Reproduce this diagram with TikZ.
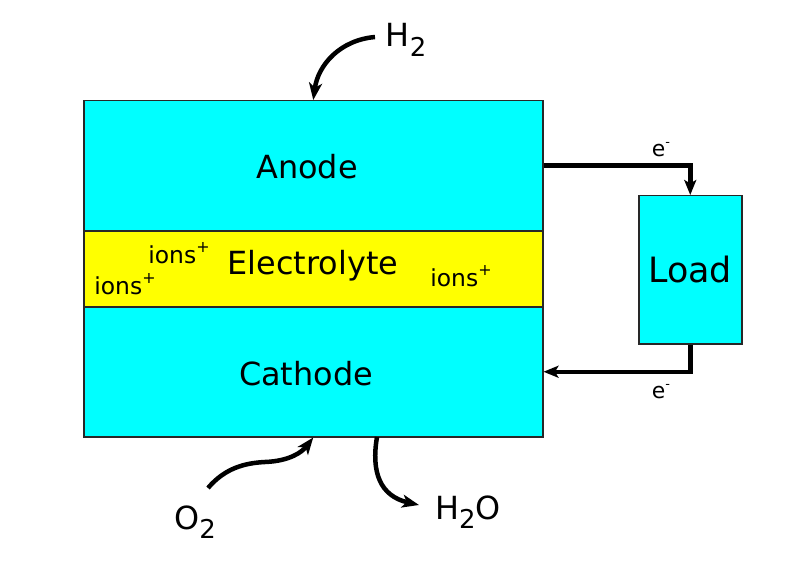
\documentclass[tikz,border=0pt]{standalone}
\usepackage{fontspec}
\setmainfont{DejaVu Sans}
\usetikzlibrary{arrows.meta}
\definecolor{cyanfill}{RGB}{0,255,255}
\definecolor{yellowfill}{RGB}{255,255,0}
\definecolor{edge}{RGB}{40,40,40}
\newcommand\mysub[2]{\raisebox{-0.3em}{\fontsize{#1}{#1}\selectfont #2}}
\newcommand\mysup[2]{\raisebox{0.45em}{\fontsize{#1}{#1}\selectfont #2}}
\begin{document}
\begin{tikzpicture}[x=1bp,y=-1bp,
  layer/.style={draw=edge, line width=1.5bp, minimum width=459bp, inner sep=0pt, anchor=north west},
  layertext/.style={font=\fontsize{32}{32}\selectfont, inner sep=0pt},
  loadbox/.style={draw=edge, line width=1.5bp, fill=cyanfill, minimum width=103bp, minimum height=148bp,
    inner sep=0pt, anchor=north west, font=\fontsize{35}{35}\selectfont},
  ionlabel/.style={font=\fontsize{23.5}{23.5}\selectfont, inner sep=0pt},
  elabel/.style={font=\fontsize{22}{22}\selectfont, inner sep=0pt},
  gas/.style={font=\fontsize{32}{32}\selectfont, inner sep=0pt},
  flow/.style={line width=4.5bp, -{Stealth[length=17bp,width=13bp,inset=4.5bp]}},
  wire/.style={line width=4.5bp, -{Stealth[length=15bp,width=12bp,inset=3.5bp]}}]
\useasboundingbox (0,0) rectangle (802,567);
% layers
\node[layer, fill=cyanfill, minimum height=130bp] (anode) at (83,100) {};
\node[layer, fill=yellowfill, minimum height=76bp] (electrolyte) at (83,230) {};
\node[layer, fill=cyanfill, minimum height=130bp] (cathode) at (83,306) {};
\node[layertext] (anodetext) at (307,167) {Anode};
\node[layertext] (electext) at (313,266) {Electrolyte};
\node[layertext] (cathodetext) at (306,374) {Cathode};
\node[ionlabel] (ion1) at (179,253) {ions\mysup{16}{+}};
\node[ionlabel] (ion2) at (125,284) {ions\mysup{16}{+}};
\node[ionlabel] (ion3) at (461,276) {ions\mysup{16}{+}};
% load
\node[loadbox] (load) at (638,195) {Load};
\node[elabel] (e1) at (661,150) {e\mysup{13}{-}};
\node[elabel] (e2) at (661,392) {e\mysup{13}{-}};
\draw[wire] (anode.east) -| (load.north);
\draw[wire] (load.south) |- (cathode.east);
% gases
\node[gas] (h2) at (406,40) {H\mysub{26}{2}};
\node[gas] (o2) at (195,522) {O\mysub{26}{2}};
\node[gas] (h2o) at (468,512) {H\mysub{26}{2}O};
\coordinate (h2start) at (375,37);
\coordinate (o2start) at (208,488);
\coordinate (h2oend) at (419,505);
\coordinate (h2ostart) at (377,437);
\coordinate (o2mid) at (265,462);
\draw[flow] (h2start) .. controls (340,40) and (318,65) .. (anode.north);
\draw[flow] (o2start) .. controls (225,468) and (245,463) .. (o2mid) .. controls (290,461) and (302,452) .. (cathode.south);
\draw[flow] (h2ostart) .. controls (371,472) and (380,496) .. (h2oend);
\end{tikzpicture}
\end{document}
